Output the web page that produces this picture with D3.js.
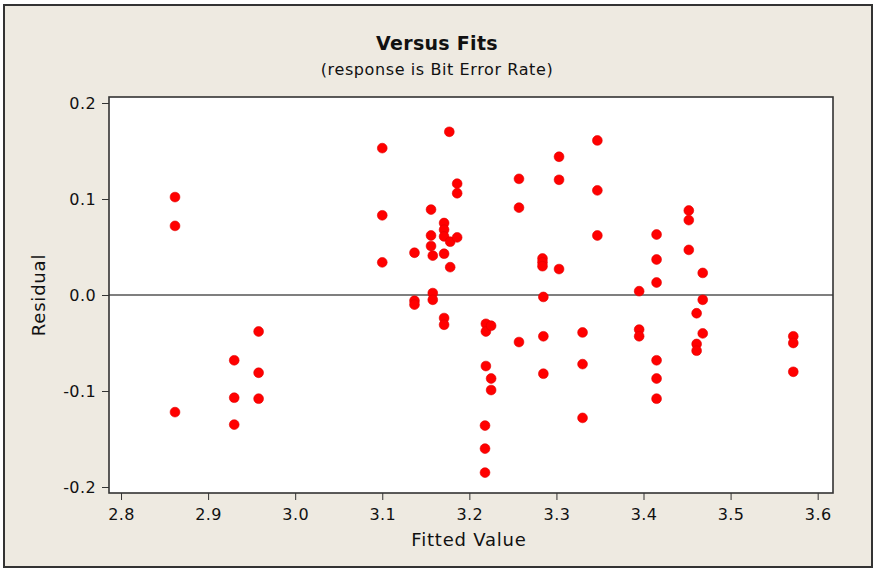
<!DOCTYPE html>
<html>
<head>
<meta charset="utf-8">
<script src="https://cdn.jsdelivr.net/npm/d3@7"></script>
<style>
    body { margin: 0; background: white; }
    text { font-family: "DejaVu Sans", sans-serif; fill: #111; }
</style>
</head>
<body>
<div id="chart"></div>
<script>
// fitted values and residuals
let fitted = [
    2.862, 2.862, 2.862,
    2.930, 2.930, 2.930,
    2.958, 2.958, 2.958,
    3.100, 3.100, 3.100,
    3.137, 3.137, 3.137,
    3.156, 3.156, 3.156,
    3.158, 3.158, 3.158,
    3.171, 3.171, 3.171, 3.171, 3.171, 3.171,
    3.177, 3.178, 3.178,
    3.186, 3.186, 3.186,
    3.219, 3.219, 3.219, 3.218, 3.218, 3.218,
    3.225, 3.225, 3.225,
    3.257, 3.257, 3.257,
    3.284, 3.284, 3.284, 3.285, 3.285, 3.285,
    3.303, 3.303, 3.303,
    3.330, 3.330, 3.330,
    3.347, 3.347, 3.347,
    3.395, 3.395, 3.395,
    3.415, 3.415, 3.415, 3.415, 3.415, 3.415,
    3.452, 3.452, 3.452,
    3.461, 3.461, 3.461,
    3.468, 3.468, 3.468,
    3.572, 3.572, 3.572
];
let residual = [
    0.102, 0.072, -0.122,
    -0.068, -0.107, -0.135,
    -0.038, -0.081, -0.108,
    0.153, 0.083, 0.034,
    0.044, -0.006, -0.010,
    0.089, 0.062, 0.051,
    0.041, 0.002, -0.005,
    0.075, 0.068, 0.061, 0.043, -0.024, -0.031,
    0.170, 0.0555, 0.029,
    0.116, 0.106, 0.060,
    -0.030, -0.038, -0.074, -0.136, -0.160, -0.185,
    -0.032, -0.087, -0.099,
    0.121, 0.091, -0.049,
    0.038, 0.034, 0.030, -0.002, -0.043, -0.082,
    0.144, 0.120, 0.027,
    -0.039, -0.072, -0.128,
    0.161, 0.109, 0.062,
    0.004, -0.036, -0.043,
    0.063, 0.037, 0.013, -0.068, -0.087, -0.108,
    0.088, 0.078, 0.047,
    -0.019, -0.051, -0.058,
    0.023, -0.005, -0.040,
    -0.043, -0.050, -0.080
];
let xTicks = [2.8, 2.9, 3.0, 3.1, 3.2, 3.3, 3.4, 3.5, 3.6];
let yTicks = [-0.2, -0.1, 0.0, 0.1, 0.2];

let _default = {
    width: 874,
    height: 571,
    left: 109,
    right: 833,
    top: 97,
    bottom: 493,
    bg: "#eeeae1",
    stroke: "#333"
};

let svg = d3.select("div#chart")
    .append("svg")
    .attr("width", _default.width)
    .attr("height", _default.height);

svg.append("rect")
    .attr("x", 4).attr("y", 5)
    .attr("width", 868).attr("height", 562)
    .attr("fill", _default.bg)
    .attr("stroke", _default.stroke)
    .attr("stroke-width", 2);

let x = d3.scaleLinear().domain([2.7862, 3.6176]).range([_default.left, _default.right]);
let y = d3.scaleLinear().domain([-0.20625, 0.20625]).range([_default.bottom, _default.top]);

svg.append("rect")
    .attr("x", _default.left).attr("y", _default.top)
    .attr("width", _default.right - _default.left)
    .attr("height", _default.bottom - _default.top)
    .attr("fill", "white");

let xAxis = svg.append("g")
    .attr("transform", `translate(0, ${_default.bottom})`)
    .call(d3.axisBottom(x).tickValues(xTicks).tickSize(7).tickPadding(9).tickFormat(d => d.toFixed(1)));
let yAxis = svg.append("g")
    .attr("transform", `translate(${_default.left}, 0)`)
    .call(d3.axisLeft(y).tickValues(yTicks).tickSize(7).tickPadding(6).tickFormat(d => d.toFixed(1)));
[xAxis, yAxis].forEach(a => {
    a.select(".domain").remove();
    a.selectAll("line").attr("stroke", _default.stroke);
    a.selectAll("text").attr("font-size", 16).attr("fill", "#222")
        .attr("letter-spacing", 0.4)
        .attr("font-family", "\"DejaVu Sans\", sans-serif");
});

// zero reference line
svg.append("line")
    .attr("x1", _default.left).attr("x2", _default.right)
    .attr("y1", y(0)).attr("y2", y(0))
    .attr("stroke", "#555")
    .attr("stroke-width", 1.3);

svg.selectAll("circle.pt")
    .data(fitted.map((f, i) => ({ f: f, r: residual[i] })))
    .enter().append("circle")
    .attr("class", "pt")
    .attr("cx", d => x(d.f))
    .attr("cy", d => y(d.r))
    .attr("r", 4.9)
    .attr("fill", "#ff0000")
    .attr("stroke", "#e00000")
    .attr("stroke-width", 0.6);

svg.append("rect")
    .attr("x", _default.left).attr("y", _default.top)
    .attr("width", _default.right - _default.left)
    .attr("height", _default.bottom - _default.top)
    .attr("fill", "none")
    .attr("stroke", _default.stroke)
    .attr("stroke-width", 1.6);

svg.append("text")
    .attr("x", 437).attr("y", 50)
    .attr("text-anchor", "middle")
    .attr("font-size", 19)
    .attr("font-weight", "bold")
    .attr("letter-spacing", 0.3)
    .text("Versus Fits");
svg.append("text")
    .attr("x", 437).attr("y", 75)
    .attr("text-anchor", "middle")
    .attr("font-size", 16)
    .attr("letter-spacing", 0.6)
    .text("(response is Bit Error Rate)");
svg.append("text")
    .attr("x", 469).attr("y", 546)
    .attr("text-anchor", "middle")
    .attr("font-size", 18)
    .attr("letter-spacing", 0.8)
    .text("Fitted Value");
svg.append("text")
    .attr("transform", `translate(45, ${y(0)}) rotate(-90)`)
    .attr("text-anchor", "middle")
    .attr("font-size", 18)
    .attr("letter-spacing", 0.8)
    .text("Residual");
</script>
</body>
</html>
